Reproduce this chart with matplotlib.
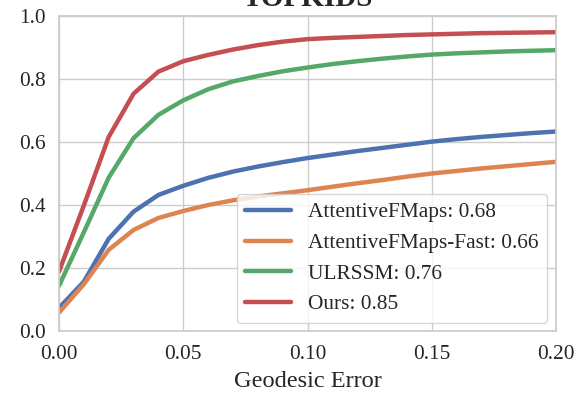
import matplotlib
matplotlib.use("Agg")
import matplotlib.pyplot as plt
import seaborn as sns

sns.set_theme(style="whitegrid")
plt.rcParams["font.family"] = ["Liberation Serif", "DejaVu Serif"]

# geodesic error thresholds
err = [0.00, 0.01, 0.02, 0.03, 0.04, 0.05, 0.06, 0.07, 0.08, 0.09, 0.10,
       0.11, 0.12, 0.13, 0.14, 0.15, 0.16, 0.17, 0.18, 0.19, 0.20]

attn = [0.075, 0.158, 0.294, 0.380, 0.433, 0.462, 0.487, 0.507, 0.523, 0.537, 0.550,
        0.561, 0.572, 0.582, 0.592, 0.602, 0.610, 0.617, 0.623, 0.629, 0.634]
attn_fast = [0.060, 0.150, 0.259, 0.322, 0.360, 0.382, 0.401, 0.416, 0.428, 0.438, 0.448,
             0.459, 0.470, 0.480, 0.491, 0.501, 0.509, 0.517, 0.524, 0.531, 0.538]
ulrssm = [0.145, 0.315, 0.488, 0.613, 0.687, 0.733, 0.768, 0.793, 0.810, 0.825, 0.837,
          0.848, 0.857, 0.865, 0.872, 0.878, 0.882, 0.885, 0.888, 0.890, 0.892]
ours = [0.190, 0.400, 0.617, 0.754, 0.824, 0.857, 0.877, 0.894, 0.908, 0.919, 0.927,
        0.931, 0.934, 0.937, 0.940, 0.942, 0.944, 0.946, 0.947, 0.948, 0.949]

labels = ["AttentiveFMaps: 0.68", "AttentiveFMaps-Fast: 0.66", "ULRSSM: 0.76", "Ours: 0.85"]
series = [attn, attn_fast, ulrssm, ours]
colors = sns.color_palette("deep")[:4]

fig = plt.figure(figsize=(5.77, 3.93), dpi=100)
ax = fig.add_axes([0.1023, 0.1565, 0.8613, 0.8025])

for ys, lab, c in zip(series, labels, colors):
    ax.plot(err, ys, color=c, lw=3.2, label=lab)

ax.set_xlim(0, 0.2)
ax.set_ylim(0, 1.0)
ax.set_xticks([0.0, 0.05, 0.10, 0.15, 0.20])
ax.set_xticklabels(["0.00", "0.05", "0.10", "0.15", "0.20"])
ax.set_yticks([0.0, 0.2, 0.4, 0.6, 0.8, 1.0])
ax.tick_params(labelsize=15.4, colors="#262626")
ax.set_xlabel("Geodesic Error", fontsize=17.6, color="#262626", labelpad=5)
ax.set_title("TOPKIDS", fontsize=21, fontweight="bold", color="#262626", pad=7)
ax.legend(loc="lower right", fontsize=15.4, handlelength=2.15,
          borderaxespad=0.4)

fig.savefig("out.png", dpi=100)
